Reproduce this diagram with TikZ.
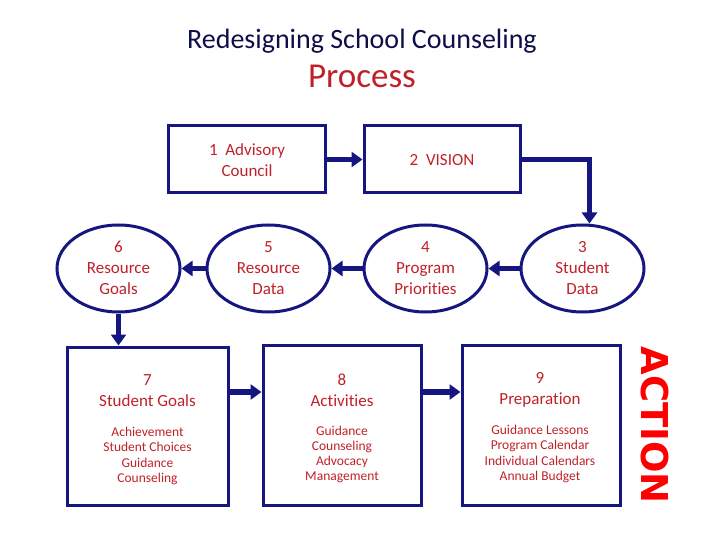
\documentclass[tikz,border=0pt]{standalone}
\usepackage{fontspec}
\setmainfont{Carlito}[Ligatures=NoCommon]
\newfontfamily\actionfont{DejaVu Sans}
\usetikzlibrary{arrows.meta}
\usetikzlibrary{shapes.geometric}
\definecolor{navy}{RGB}{22,22,128}
\definecolor{stepred}{RGB}{192,32,40}
\definecolor{titleblue}{RGB}{14,14,72}
\tikzset{%
  stepbox/.style={rectangle, draw=navy, line width=3bp, inner sep=0pt},
  stepoval/.style={ellipse, draw=navy, line width=3bp, inner sep=0pt,
    minimum width=123bp, minimum height=87bp},
  steptext/.style={text=stepred, align=center, inner sep=0pt,
    font=\fontsize{17bp}{21bp}\selectfont},
  listtext/.style={text=stepred, align=center, inner sep=0pt,
    font=\fontsize{13.5bp}{15.3bp}\selectfont},
  flow/.style={draw=navy, line width=5.5bp,
    -{Triangle[length=11bp,width=15bp]}}
}

\begin{document}
\begin{tikzpicture}[x=1bp, y=-1bp]
  \useasboundingbox (0,0) rectangle (720,540);

% title
\node [anchor=base, text=titleblue, font=\fontsize{28bp}{32bp}\selectfont] (title) at (362,49) {Redesigning School Counseling};
\node [anchor=base, text=stepred, font=\fontsize{35bp}{40bp}\selectfont] (process) at (362,88) {Process};

% top boxes
\node [stepbox, minimum width=157bp, minimum height=67bp] (B1) at (246.5,159.5) {};
\node [stepbox, minimum width=156bp, minimum height=67bp] (B2) at (442,159.5) {};
\node [steptext] (T1) at (247,160) {1~~Advisory\\Council};
\node [steptext] (T2) at (442,160) {2~~VISION};

% ovals
\foreach \n / \x / \lab in {6/118.5/{6\\Resource\\Goals}, 5/268.5/{5\\Resource\\Data},
                            4/425.5/{4\\Program\\Priorities}, 3/582.5/{3\\Student\\Data}}{
  \node [stepoval] (E\n) at (\x,268.5) {};
  \node [steptext] (L\n) at (\x,268) {\lab};
}

% bottom boxes
\node [stepbox, minimum width=161bp, minimum height=158bp] (B7) at (147.5,426) {};
\node [stepbox, minimum width=158bp, minimum height=160bp] (B8) at (342,425) {};
\node [stepbox, minimum width=158bp, minimum height=160bp] (B9) at (541,425) {};

\node [steptext] (H7) at (147.5,391) {7\\Student Goals};
\node [steptext] (H8) at (342,390) {8\\Activities};
\node [steptext] (H9) at (540,389.5) {9\\Preparation};
\node [listtext] (S7) at (147.5,456) {Achievement\\Student Choices\\Guidance\\Counseling};
\node [listtext] (S8) at (342,454.5) {Guidance\\Counseling\\Advocacy\\Management};
\node [listtext] (S9) at (540,454) {Guidance Lessons\\Program Calendar\\Individual Calendars\\Annual Budget};

\node [rotate=-90, text=red, inner sep=0pt, font=\actionfont\bfseries\fontsize{37bp}{42bp}\selectfont] (action) at (655,425) {ACTION};

% connectors
\draw [flow] (B1.east) -- (B2.west);
\draw [flow] (B2.east) -| ([xshift=7bp]E3.north);
\draw [flow] (E3.west) -- (E4.east);
\draw [flow] (E4.west) -- (E5.east);
\draw [flow] (E5.west) -- (E6.east);
\draw [flow] (E6.south) -- (E6.south |- B7.north);
\draw [flow] (B7.east |- 0,392) -- (B8.west |- 0,392);
\draw [flow] (B8.east |- 0,392) -- (B9.west |- 0,392);

\end{tikzpicture}
\end{document}
